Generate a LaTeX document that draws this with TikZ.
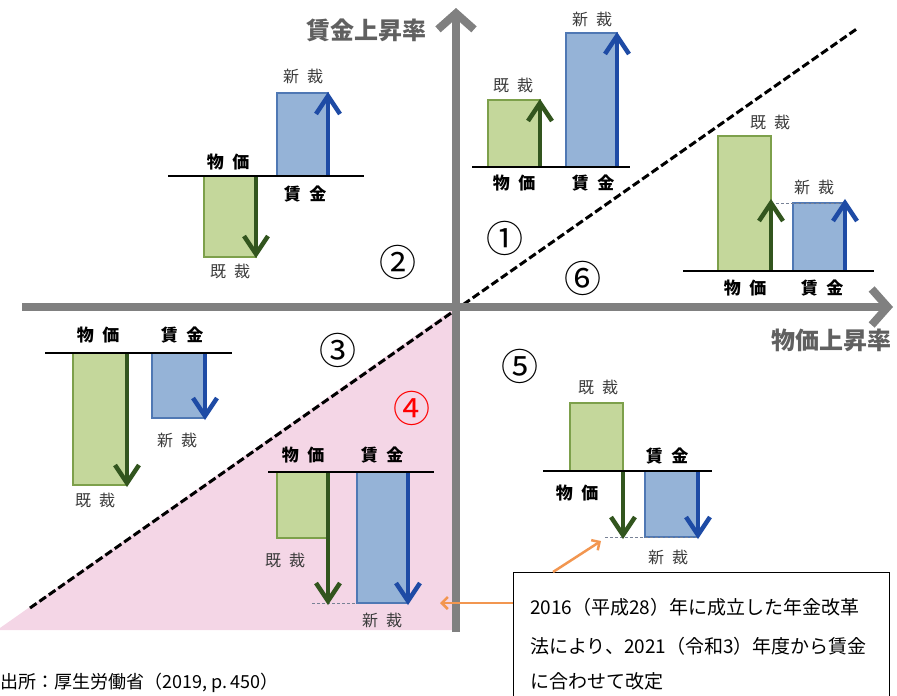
\documentclass[tikz,border=0pt]{standalone}
\usepackage{fontspec}
\setmainfont{Noto Sans CJK JP}
\usetikzlibrary{arrows.meta}
\definecolor{gfill}{RGB}{196,215,155}
\definecolor{gline}{RGB}{125,160,75}
\definecolor{garr}{RGB}{50,85,30}
\definecolor{bfill}{RGB}{149,179,215}
\definecolor{bline}{RGB}{79,120,180}
\definecolor{barr}{RGB}{30,75,165}
\definecolor{axisgray}{RGB}{128,128,128}
\definecolor{pinkbg}{RGB}{244,214,230}
\definecolor{orangearr}{RGB}{242,150,80}
\definecolor{labgray}{RGB}{60,60,60}
\definecolor{dotc}{RGB}{120,130,150}
\tikzset{
  gbar/.style={fill=gfill, draw=gline, line width=1.5pt},
  bbar/.style={fill=bfill, draw=bline, line width=1.5pt},
  garrow/.style={draw=garr, line width=4.5pt},
  barrow/.style={draw=barr, line width=4.5pt},
  headg/.style={draw=garr, line width=4.5pt, line join=miter, line cap=butt},
  headb/.style={draw=barr, line width=4.5pt, line join=miter, line cap=butt},
  baseline/.style={draw=black, line width=2pt},
  axisline/.style={draw=axisgray, line width=8pt, -{Straight Barb[length=16pt,width=36pt,line width=8pt]}},
  boldlab/.style={font=\fontsize{17}{17}\selectfont\bfseries, text=black, inner sep=0pt},
  oldlab/.style={font=\fontsize{16}{16}\selectfont, text=labgray, inner sep=0pt},
  circ/.style={font=\fontsize{37}{37}\selectfont, text=black, inner sep=0pt},
  axislab/.style={font=\fontsize{24}{24}\selectfont\bfseries, text=axisgray!75!black, inner sep=0pt},
  dotline/.style={draw=dotc, line width=1pt, dash pattern=on 3pt off 2pt},
  oarr/.style={draw=orangearr, line width=2.5pt, -{Straight Barb[length=6pt,width=12pt,line width=2.5pt]}},
  boxtext/.style={font=\fontsize{19}{19}\selectfont, text=black, inner sep=0pt, anchor=base west},
}
% chevron heads: #1 x, #2 tip y, #3 style
\newcommand\chevup[3]{\draw[#3] ({#1-12},{#2+21}) -- (#1,{#2+3}) -- ({#1+12},{#2+21});}
\newcommand\chevdn[3]{\draw[#3] ({#1-12},{#2-21}) -- (#1,{#2-3}) -- ({#1+12},{#2-21});}
\newcommand\wsp{\hspace{0.5em}}
\begin{document}
\begin{tikzpicture}[x=1pt,y=-1pt]
\useasboundingbox (0,0) rectangle (897,696);
% pink region
\fill[pinkbg] (0,628) -- (456,307) -- (456,630) -- (0,630) -- cycle;
% dashed diagonal
\draw[line width=3pt, dash pattern=on 8pt off 3.5pt] (30,608) -- (858,28);
% axes
\coordinate (xs) at (22,307);
\coordinate (xe) at (893,307);
\coordinate (ys) at (456,632);
\coordinate (ye) at (456,8);
\draw[axisline] (xs) -- (xe);
\draw[axisline] (ys) -- (ye);
\node[axislab] (ylab) at (366,30) {賃金上昇率};
\node[axislab] (xlab) at (831,340) {物価上昇率};
% circled numbers
\node[circ] (c1) at (505,238) {①};
\node[circ] (c2) at (398,262) {②};
\node[circ] (c3) at (338,350) {③};
\node[circ, text=red] (c4) at (412,408) {④};
\node[circ] (c5) at (520,366) {⑤};
\node[circ] (c6) at (583,278) {⑥};

% ---------- Q1 ----------
\fill[gbar] (488,167) rectangle (540,100);
\fill[bbar] (566,167) rectangle (617,33);
\draw[garrow] (540,167) -- (540,104);
\chevup{540}{100}{headg}
\draw[barrow] (617,167) -- (617,37);
\chevup{617}{33}{headb}
\draw[baseline] (472,167) -- (630,167);
\node[oldlab] (q1o) at (513,85) {既\wsp 裁};
\node[oldlab] (q1n) at (592,19) {新\wsp 裁};
\node[boldlab] (q1p) at (514,183) {物\wsp 価};
\node[boldlab] (q1w) at (593,183) {賃\wsp 金};

% ---------- Q2 ----------
\fill[gbar] (204,176) rectangle (256,257);
\fill[bbar] (277,176) rectangle (328,93);
\draw[garrow] (256,176) -- (256,253);
\chevdn{256}{257}{headg}
\draw[barrow] (328,176) -- (328,97);
\chevup{328}{93}{headb}
\draw[baseline] (168,176) -- (364,176);
\node[boldlab] (q2p) at (228,162) {物\wsp 価};
\node[boldlab] (q2w) at (305,194) {賃\wsp 金};
\node[oldlab] (q2n) at (303,76) {新\wsp 裁};
\node[oldlab] (q2o) at (230,271) {既\wsp 裁};

% ---------- Q6 ----------
\fill[gbar] (718,271) rectangle (771,136);
\fill[bbar] (793,271) rectangle (845,203);
\draw[dotline] (771,203) -- (845,203);
\draw[garrow] (771,271) -- (771,204);
\chevup{771}{200}{headg}
\draw[barrow] (845,271) -- (845,204);
\chevup{845}{200}{headb}
\draw[baseline] (683,271) -- (874,271);
\node[oldlab] (q6o) at (770,122) {既\wsp 裁};
\node[oldlab] (q6n) at (814,187) {新\wsp 裁};
\node[boldlab] (q6p) at (745,288) {物\wsp 価};
\node[boldlab] (q6w) at (822,288) {賃\wsp 金};

% ---------- Q3 ----------
\fill[gbar] (73,353) rectangle (127,485);
\fill[bbar] (152,353) rectangle (205,418);
\draw[garrow] (127,353) -- (127,482);
\chevdn{127}{486}{headg}
\draw[barrow] (205,353) -- (205,415);
\chevdn{205}{419}{headb}
\draw[baseline] (45,353) -- (232,353);
\node[boldlab] (q3p) at (98,335) {物\wsp 価};
\node[boldlab] (q3w) at (182,335) {賃\wsp 金};
\node[oldlab] (q3n) at (177,440) {新\wsp 裁};
\node[oldlab] (q3o) at (95,500) {既\wsp 裁};

% ---------- Q4 ----------
\fill[gbar] (277,472) rectangle (328,538);
\fill[bbar] (357,472) rectangle (408,603);
\draw[dotline] (312,603) -- (357,603);
\draw[garrow] (328,472) -- (328,600);
\chevdn{328}{604}{headg}
\draw[barrow] (408,472) -- (408,600);
\chevdn{408}{604}{headb}
\draw[baseline] (268,472) -- (434,472);
\node[boldlab] (q4p) at (303,455) {物\wsp 価};
\node[boldlab] (q4w) at (382,455) {賃\wsp 金};
\node[oldlab] (q4o) at (285,560) {既\wsp 裁};
\node[oldlab] (q4n) at (382,620) {新\wsp 裁};

% ---------- Q5 ----------
\fill[gbar] (570,471) rectangle (623,403);
\fill[bbar] (645,471) rectangle (698,537);
\draw[dotline] (605,537) -- (698,537);
\draw[garrow] (623,471) -- (623,534);
\chevdn{623}{538}{headg}
\draw[barrow] (698,471) -- (698,534);
\chevdn{698}{538}{headb}
\draw[baseline] (543,471) -- (712,471);
\node[oldlab] (q5o) at (598,387) {既\wsp 裁};
\node[boldlab] (q5w) at (667,456) {賃\wsp 金};
\node[boldlab] (q5p) at (577,493) {物\wsp 価};
\node[oldlab] (q5n) at (668,557) {新\wsp 裁};

% ---------- note box ----------
\node[draw=black, line width=1pt, minimum width=376pt, minimum height=125pt, anchor=north west, inner sep=0pt] (box) at (513,572) {};
\node[boxtext] (t1) at (530,614) {2016（平成28）年に成立した年金改革};
\node[boxtext] (t2) at (530,653) {法により、2021（令和3）年度から賃金};
\node[boxtext] (t3) at (530,688) {に合わせて改定};
\coordinate (a1s) at (513,603);
\coordinate (a1e) at (440,603);
\coordinate (a2s) at (553,572);
\coordinate (a2e) at (601,541);
\draw[oarr] (a1s) -- (a1e);
\draw[oarr] (a2s) -- (a2e);

% source
\node[font=\fontsize{18}{18}\selectfont, inner sep=0pt, anchor=base west] (src) at (0,688) {出所：厚生労働省（2019,\ p.\,450）};
\end{tikzpicture}
\end{document}
